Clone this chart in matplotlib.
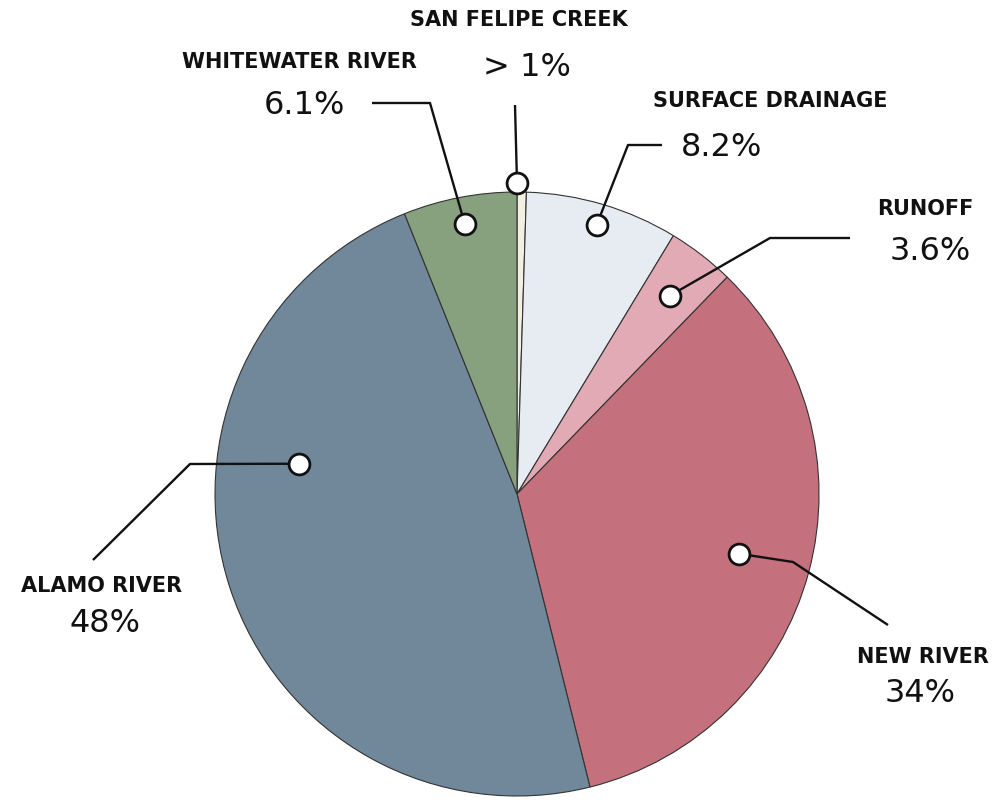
import numpy as np
import matplotlib
matplotlib.use("Agg")
import matplotlib.pyplot as plt

# 데이터: 위쪽(12시)에서 시계방향 순서
labels = ["SAN FELIPE CREEK", "SURFACE DRAINAGE", "RUNOFF", "NEW RIVER", "ALAMO RIVER", "WHITEWATER RIVER"]
values = [0.5, 8.2, 3.6, 34, 48, 6.1]
pct_text = ["> 1%", "8.2%", "3.6%", "34%", "48%", "6.1%"]
colors = ["#f3efe3", "#e6ecf1", "#e2aab5", "#c4717d", "#71879a", "#87a07e"]

W, H = 997, 802
CX, CY, R = 517, 494, 302  # 픽셀 좌표 (y는 위에서부터)


def px(x, y):
    return x, H - y


fig = plt.figure(figsize=(W / 100, H / 100), dpi=100)
ax = fig.add_axes([0, 0, 1, 1])
ax.set_aspect("equal")
ax.axis("off")

wedges, _ = ax.pie(values, colors=colors, startangle=90, counterclock=False,
                   radius=R, center=px(CX, CY), explode=[0, 0, 0, 0.01, 0, 0],
                   wedgeprops=dict(edgecolor="#333333", linewidth=0.8))
ax.set_xlim(0, W)
ax.set_ylim(0, H)

# 주석 위치: (쐐기 안 각도 비율, 반지름 비율), 꺾이는 점들, 라벨 위치, 퍼센트 위치
layout = [
    (1.0, 1.03, [(515, 105)], (519, 20), (527, 68)),
    (0.5, 0.93, [(628, 145), (662, 145)], (770, 101), (722, 148)),
    (0.5, 0.83, [(770, 238), (850, 238)], (925, 209), (930, 251)),
    (0.5, 0.76, [(793, 562), (888, 625)], (923, 657), (920, 693)),
    (0.35, 0.73, [(190, 464), (93, 560)], (102, 586), (105, 623)),
    (0.5, 0.91, [(430, 103), (372, 103)], (299, 62), (304, 106)),
]

for w, lab, pt, (f, rf, elbows, lpos, ppos) in zip(wedges, labels, pct_text, layout):
    t = np.deg2rad(w.theta1 + f * (w.theta2 - w.theta1))
    cx, cy = w.center
    ax_x = cx + rf * R * np.cos(t)
    ax_y = cy + rf * R * np.sin(t)
    xs = [ax_x] + [px(*e)[0] for e in elbows]
    ys = [ax_y] + [px(*e)[1] for e in elbows]
    ax.plot(xs, ys, color="#111111", linewidth=1.7, zorder=3, solid_capstyle="butt")
    ax.plot(ax_x, ax_y, "o", ms=15, mfc="white", mec="#111111", mew=2, zorder=4)
    ax.text(*px(*lpos), lab, ha="center", va="center", fontsize=15,
            fontweight="bold", color="#111111", family="DejaVu Sans")
    ax.text(*px(*ppos), pt, ha="center", va="center", fontsize=23,
            color="#111111", family="DejaVu Sans")

plt.savefig("out.png", dpi=100, facecolor="white")
plt.close()
